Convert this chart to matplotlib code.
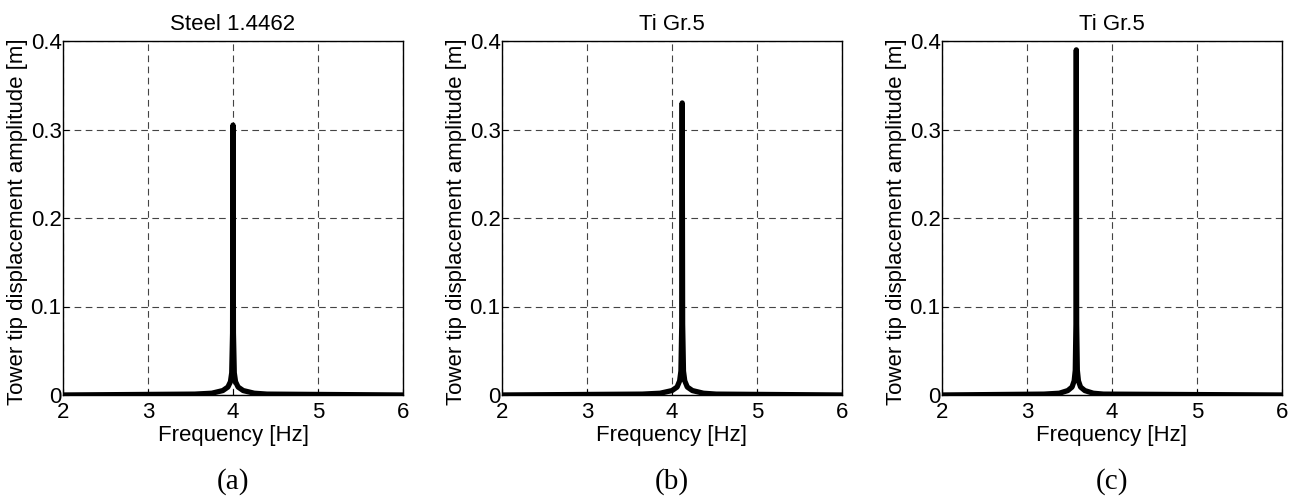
import matplotlib.pyplot as plt

# ------------------------------
# Data
# ------------------------------
titles = ["Steel 1.4462", "Ti Gr.5", "Ti Gr.5"]
panel_tags = ["(a)", "(b)", "(c)"]

freq_a = [2.0, 3.55, 3.75, 3.88, 3.94, 3.97, 3.985, 3.995, 4.0, 4.005, 4.015, 4.03, 4.06, 4.12, 4.25, 4.4, 6.0]
amp_a = [0.0, 0.001, 0.002, 0.005, 0.009, 0.015, 0.025, 0.07, 0.305, 0.07, 0.025, 0.015, 0.009, 0.005, 0.002, 0.001, 0.0]

freq_b = [2.0, 3.65, 3.86, 4.0, 4.06, 4.09, 4.105, 4.115, 4.12, 4.125, 4.135, 4.15, 4.18, 4.24, 4.37, 4.52, 6.0]
amp_b = [0.0, 0.001, 0.002, 0.005, 0.009, 0.016, 0.027, 0.08, 0.33, 0.08, 0.027, 0.016, 0.009, 0.005, 0.002, 0.001, 0.0]

freq_c = [2.0, 3.2, 3.38, 3.48, 3.53, 3.555, 3.568, 3.576, 3.58, 3.584, 3.592, 3.605, 3.63, 3.68, 3.78, 3.9, 6.0]
amp_c = [0.0, 0.001, 0.002, 0.005, 0.009, 0.016, 0.028, 0.08, 0.39, 0.08, 0.028, 0.016, 0.009, 0.005, 0.002, 0.001, 0.0]

series = [(freq_a, amp_a), (freq_b, amp_b), (freq_c, amp_c)]
x_ticks = [2, 3, 4, 5, 6]
y_ticks = [0, 0.1, 0.2, 0.3, 0.4]
y_tick_labels = ["0", "0.1", "0.2", "0.3", "0.4"]

# ------------------------------
# Figure
# ------------------------------
plt.rcParams['font.family'] = ['Liberation Sans', 'DejaVu Sans']
fig = plt.figure(figsize=(12.94, 4.97), dpi=100)

W, H = 1294, 497
lefts = [63, 502, 942]
ax_w, ax_top, ax_bot = 340, 41, 395

for i, ((fx, fy), title, tag) in enumerate(zip(series, titles, panel_tags)):
    ax = fig.add_axes([lefts[i] / W, 1 - ax_bot / H, ax_w / W, (ax_bot - ax_top) / H])
    ax.plot(fx, fy, color='black', linewidth=3.8, solid_joinstyle='round')
    ax.set_xlim(2, 6)
    ax.set_ylim(0, 0.4)
    ax.set_xticks(x_ticks)
    ax.set_yticks(y_ticks)
    ax.set_yticklabels(y_tick_labels)
    ax.tick_params(direction='in', labelsize=16, length=4, color='black')
    ax.tick_params(axis='y', pad=1)
    ax.tick_params(axis='x', pad=5)
    ax.grid(True, linestyle=(0, (6, 4)), color='#444444', linewidth=0.8)
    for s in ax.spines.values():
        s.set_linewidth(1.0)
    ax.set_title(title, fontsize=16, pad=8)
    ax.set_xlabel("Frequency [Hz]", fontsize=16)
    ax.xaxis.set_label_coords(0.5, -0.084)
    ax.set_ylabel("Tower tip displacement amplitude [m]", fontsize=16)
    ax.yaxis.set_label_coords(-0.103, 0.49)
    fig.text((lefts[i] + ax_w / 2) / W, 1 - 482 / H, tag, ha='center', va='center',
             fontsize=21, family=['Liberation Serif', 'DejaVu Serif'])

fig.savefig('out.png', dpi=100)
